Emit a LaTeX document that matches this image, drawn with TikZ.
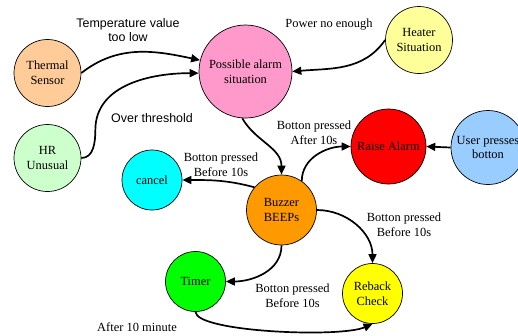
\documentclass[tikz,border=0pt]{standalone}
\usepackage{fontspec}
\setmainfont{Liberation Serif}
\newfontfamily\arialfont{Liberation Sans}
\usetikzlibrary{arrows.meta}
\definecolor{peach}{HTML}{FFCC99}
\definecolor{mint}{HTML}{CCFFCC}
\definecolor{rose}{HTML}{FF99CC}
\definecolor{paleyellow}{HTML}{FFFF99}
\definecolor{skyblue}{HTML}{99CCFF}
\definecolor{amber}{HTML}{FF9900}
\definecolor{alarmred}{HTML}{FF0000}
\definecolor{aqua}{HTML}{00FFFF}
\definecolor{lime}{HTML}{00FF00}
\definecolor{lemon}{HTML}{FFFF00}
\tikzset{
  statenode/.style={circle, draw=black, line width=0.7pt, inner sep=0pt, align=center,
    font=\fontsize{12.5}{15}\selectfont},
  flowarrow/.style={line width=1.7pt, -{Triangle[length=9pt,width=8pt]}},
  notetext/.style={align=center, inner sep=0pt, font=\fontsize{12.5}{15}\selectfont},
  sanstext/.style={align=center, inner sep=0pt, font=\arialfont\fontsize{12.5}{14}\selectfont}
}

\begin{document}
\begin{tikzpicture}[x=1bp,y=1bp]
		%%%%% START %%%%%
		\useasboundingbox (0,0) rectangle (518,-335);
		\clip (0,0) rectangle (518,-335);
		
		\node[statenode, fill=peach, minimum size=67bp] (thermal) at (47.5,-73) {Thermal\\Sensor};
		\node[statenode, fill=mint, minimum size=67bp] (hr) at (47.5,-158) {HR\\Unusual};
		\node[statenode, fill=rose, minimum size=93bp] (possible) at (245.5,-71.5) {Possible alarm\\situation};
		\node[statenode, fill=paleyellow, minimum size=67bp] (heater) at (419,-40) {Heater\\Situation};
		\node[statenode, fill=alarmred, minimum size=75bp] (raise) at (388.5,-146.5) {Raise Alarm};
		\node[statenode, fill=skyblue, minimum size=74bp] (user) at (488,-147.5) {User presses\\botton};
		\node[statenode, fill=aqua, minimum size=60bp] (cancel) at (152,-180) {cancel};
		\node[statenode, fill=amber, minimum size=70bp] (buzzer) at (281.5,-210) {Buzzer\\BEEPs};
		\node[statenode, fill=lime, minimum size=60bp] (timer) at (195.5,-281.5) {Timer};
		\node[statenode, fill=lemon, minimum size=60bp] (reback) at (372.5,-293.5) {Reback\\Check};
		
		% labels
		\node[sanstext] (templow) at (128,-30) {Temperature value\\too low};
		\node[sanstext] (overthr) at (152,-118) {Over threshold};
		\node[notetext] (power) at (329,-25) {Power no enough};
		\node[notetext] (after10) at (314,-132.5) {Botton pressed\\After 10s};
		\node[notetext] (beforecancel) at (221,-164.5) {Botton pressed\\Before 10s};
		\node[notetext] (beforereback) at (404,-224.5) {Botton pressed\\Before 10s};
		\node[notetext] (beforetimer) at (292.5,-295.5) {Botton pressed\\Before 10s};
		\node[notetext] (aftermin) at (137,-327) {After 10 minute};
		
		% arrows
		\draw[flowarrow] (thermal.east) to[out=38,in=168] (possible.166);
		\draw[flowarrow] (hr.east) to[out=0,in=270] ++(14,28) to[out=90,in=180] (possible.182);
		\draw[flowarrow] (heater.west) to[out=235,in=5] (possible.east);
		\draw[flowarrow] (possible.266) to[out=-60,in=90] (buzzer.north);
		\draw[flowarrow] (buzzer.55) to[out=90,in=180] (raise.west);
		\draw[flowarrow] (user.west) -- (raise.east);
		\draw[flowarrow] (buzzer.140) to[out=165,in=0] (cancel.east);
		\draw[flowarrow] (buzzer.east) to[out=0,in=90] (reback.north);
		\draw[flowarrow] (buzzer.south) to[out=-90,in=0] (timer.east);
		\draw[flowarrow] (timer.south) .. controls (196,-332) and (340,-338) .. (reback.south);
		
		%%%%% END %%%%%
	\end{tikzpicture}
\end{document}
